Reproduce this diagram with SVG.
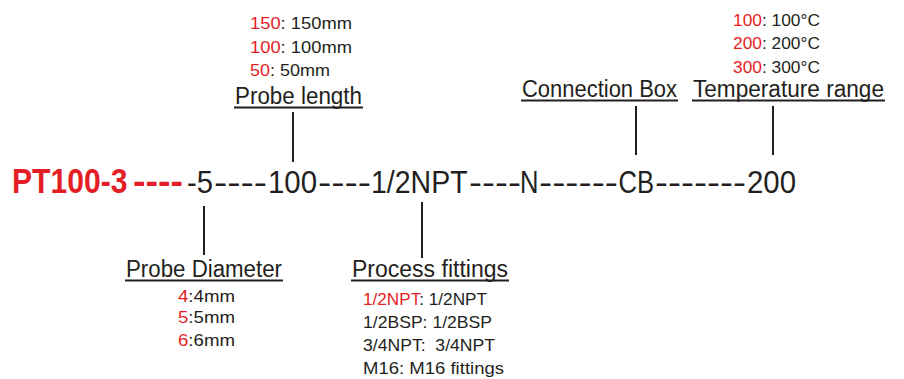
<svg xmlns="http://www.w3.org/2000/svg" width="904" height="379" viewBox="0 0 904 379">
<style>
text{font-family:"Liberation Sans",Arial,sans-serif;fill:#231f20;white-space:pre}
.r{fill:#e41e26}
.main{font-size:32px}
.red{font-size:35px;font-weight:bold;fill:#e41e26}
.lbl{font-size:23px}
.opt{font-size:17px}
.ul{stroke:#231f20;stroke-width:2}
.ln{stroke:#231f20;stroke-width:2}
</style>
<rect width="904" height="379" fill="#fff"/>
<g id="code">
<text class="red" transform="translate(12,193) scale(0.86,1)">PT100-3</text>
<text class="red" x="133" y="193" textLength="50" lengthAdjust="spacingAndGlyphs">----</text>
<text class="main" x="187" y="193" textLength="26" lengthAdjust="spacingAndGlyphs">-5</text>
<text class="main" x="214" y="193" textLength="53" lengthAdjust="spacingAndGlyphs">----</text>
<text class="main" transform="translate(268,193) scale(0.92,1)">100</text>
<text class="main" x="318" y="193" textLength="53" lengthAdjust="spacingAndGlyphs">----</text>
<text class="main" transform="translate(371,193) scale(0.89,1)">1/2NPT</text>
<text class="main" x="469" y="193" textLength="52" lengthAdjust="spacingAndGlyphs">----</text>
<text class="main" transform="translate(520,193) scale(0.8,1)">N</text>
<text class="main" x="539" y="193" textLength="79" lengthAdjust="spacingAndGlyphs">------</text>
<text class="main" transform="translate(618.5,193) scale(0.8,1)">CB</text>
<text class="main" x="655" y="193" textLength="91" lengthAdjust="spacingAndGlyphs">-------</text>
<text class="main" transform="translate(747,193) scale(0.92,1)">200</text>
</g>
<g id="connectors">
<line class="ln" x1="293" y1="112" x2="293" y2="162"/>
<line class="ln" x1="636" y1="106" x2="636" y2="155"/>
<line class="ln" x1="773" y1="106" x2="773" y2="155"/>
<line class="ln" x1="204" y1="206" x2="204" y2="255"/>
<line class="ln" x1="422" y1="202" x2="422" y2="258"/>
</g>
<g id="probe-length">
<text class="opt" x="250" y="29" textLength="102" lengthAdjust="spacingAndGlyphs"><tspan class="r">150</tspan>: 150mm</text>
<text class="opt" x="250" y="53" textLength="102" lengthAdjust="spacingAndGlyphs"><tspan class="r">100</tspan>: 100mm</text>
<text class="opt" x="250" y="76" textLength="80" lengthAdjust="spacingAndGlyphs"><tspan class="r">50</tspan>: 50mm</text>
<text class="lbl" x="235" y="104" textLength="127" lengthAdjust="spacingAndGlyphs">Probe length</text>
<line class="ul" x1="234" y1="107.5" x2="363" y2="107.5"/>
</g>
<g id="connection-box">
<text class="lbl" x="522" y="97" textLength="155" lengthAdjust="spacingAndGlyphs">Connection Box</text>
<line class="ul" x1="521" y1="100.5" x2="678" y2="100.5"/>
</g>
<g id="temperature-range">
<text class="opt" x="733" y="26" textLength="87" lengthAdjust="spacingAndGlyphs"><tspan class="r">100</tspan>: 100°C</text>
<text class="opt" x="733" y="49" textLength="87" lengthAdjust="spacingAndGlyphs"><tspan class="r">200</tspan>: 200°C</text>
<text class="opt" x="733" y="73" textLength="87" lengthAdjust="spacingAndGlyphs"><tspan class="r">300</tspan>: 300°C</text>
<text class="lbl" x="693" y="97" textLength="191" lengthAdjust="spacingAndGlyphs">Temperature range</text>
<line class="ul" x1="692" y1="100.5" x2="885" y2="100.5"/>
</g>
<g id="probe-diameter">
<text class="lbl" x="126" y="277" textLength="156" lengthAdjust="spacingAndGlyphs">Probe Diameter</text>
<line class="ul" x1="125" y1="280.5" x2="283" y2="280.5"/>
<text class="opt" x="178" y="302" textLength="57" lengthAdjust="spacingAndGlyphs"><tspan class="r">4</tspan>:4mm</text>
<text class="opt" x="178" y="323" textLength="57" lengthAdjust="spacingAndGlyphs"><tspan class="r">5</tspan>:5mm</text>
<text class="opt" x="178" y="346" textLength="57" lengthAdjust="spacingAndGlyphs"><tspan class="r">6</tspan>:6mm</text>
</g>
<g id="process-fittings">
<text class="lbl" x="352" y="277" textLength="156" lengthAdjust="spacingAndGlyphs">Process fittings</text>
<line class="ul" x1="351" y1="280.5" x2="509" y2="280.5"/>
<text class="opt" x="363" y="305" textLength="124" lengthAdjust="spacingAndGlyphs"><tspan class="r">1/2NPT</tspan>: 1/2NPT</text>
<text class="opt" x="363" y="328" textLength="129" lengthAdjust="spacingAndGlyphs">1/2BSP: 1/2BSP</text>
<text class="opt" x="363" y="351" textLength="132" lengthAdjust="spacingAndGlyphs">3/4NPT:  3/4NPT</text>
<text class="opt" x="363" y="374" textLength="141" lengthAdjust="spacingAndGlyphs">M16: M16 fittings</text>
</g>
</svg>
